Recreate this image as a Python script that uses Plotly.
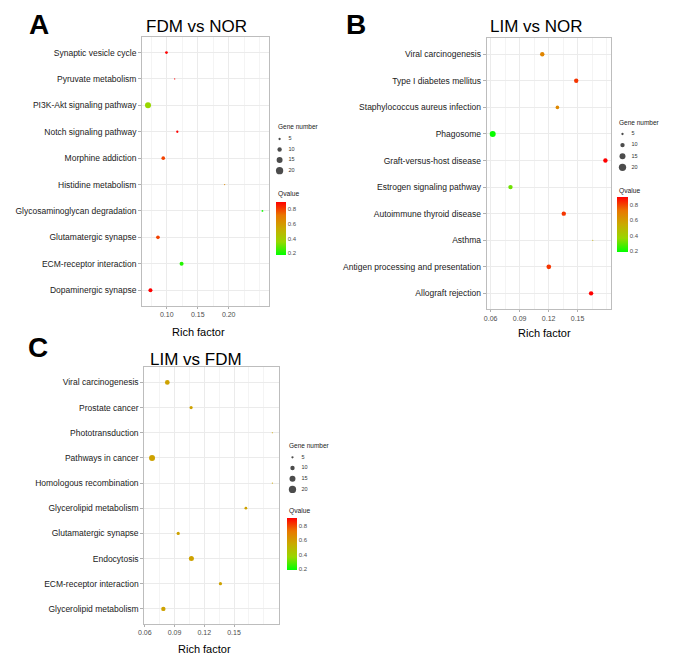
import math
import plotly.graph_objects as go

PAGE_W, PAGE_H = 677, 660
OFF = 8  # default page body margin of the html page
W, H = PAGE_W - OFF, PAGE_H - OFF

# ---------------- data ----------------
a_terms = ["Synaptic vesicle cycle", "Pyruvate metabolism", "PI3K-Akt signaling pathway",
           "Notch signaling pathway", "Morphine addiction", "Histidine metabolism",
           "Glycosaminoglycan degradation", "Glutamatergic synapse", "ECM-receptor interaction",
           "Dopaminergic synapse"]
a_rich = [0.0995, 0.1128, 0.0697, 0.1170, 0.0943, 0.1935, 0.2545, 0.0857, 0.1239, 0.0736]
a_genes = [6, 3, 15, 5, 8, 3, 4, 8, 9, 9]
a_q = [0.90, 0.90, 0.36, 0.90, 0.80, 0.66, 0.20, 0.80, 0.22, 0.90]

b_terms = ["Viral carcinogenesis", "Type I diabetes mellitus", "Staphylococcus aureus infection",
           "Phagosome", "Graft-versus-host disease", "Estrogen signaling pathway",
           "Autoimmune thyroid disease", "Asthma", "Antigen processing and presentation",
           "Allograft rejection"]
b_rich = [0.1134, 0.1486, 0.1291, 0.0621, 0.1788, 0.0805, 0.1357, 0.1657, 0.1202, 0.1640]
b_genes = [10, 10, 8, 15, 10, 10, 10, 3, 11, 10]
b_q = [0.67, 0.82, 0.66, 0.19, 0.90, 0.31, 0.82, 0.52, 0.82, 0.90]

c_terms = ["Viral carcinogenesis", "Prostate cancer", "Phototransduction", "Pathways in cancer",
           "Homologous recombination", "Glycerolipid metabolism", "Glutamatergic synapse",
           "Endocytosis", "ECM-receptor interaction", "Glycerolipid metabolism"]
c_rich = [0.0827, 0.1067, 0.1887, 0.0673, 0.1887, 0.1620, 0.0937, 0.1070, 0.1363, 0.0787]
c_genes = [11, 7, 3, 15, 3, 6, 7, 12, 7, 10]
c_q = [0.57, 0.57, 0.56, 0.57, 0.56, 0.57, 0.57, 0.57, 0.57, 0.57]

titles = ["FDM vs NOR", "LIM vs NOR", "LIM vs FDM"]
letters = ["A", "B", "C"]
x_ticks_a = [0.10, 0.15, 0.20]
x_ticks_bc = [0.06, 0.09, 0.12, 0.15]
gene_legend = [5, 10, 15, 20]
q_ticks = [0.2, 0.4, 0.6, 0.8]

# ---------------- style ----------------
FONT = "Liberation Sans, Arial, sans-serif"
CSCALE = [[0.0, "#00FF00"], [0.25, "#98D700"], [0.5, "#C9AB00"], [0.75, "#E97700"], [1.0, "#FF0000"]]
QMIN, QMAX = 0.18, 0.90


def px_x(p):
    return (p - OFF) / W


def px_y(p):
    return 1 - (p - OFF) / H


def diam(n):
    return max(2.24 * math.sqrt(n) - 2.7, 1.0)


panels = [
    dict(terms=a_terms, rich=a_rich, genes=a_genes, q=a_q, ticks=x_ticks_a, tickfmt="{:.2f}",
         xdom=(137.3, 265.0), ydom=(36.7, 306.0), xrange=(0.0602, 0.2646), minor=0.025,
         cb=(272.0, 201.7, 53.3, 10.0), leg=(276.0, 139.0, 10.55), gene_title=(272.0, 126.0),
         q_title=(272.0, 194.0), rich_title=(193.8, 331.7), title=(192.0, 25.0), letter=(33.0, None)),
    dict(terms=b_terms, rich=b_rich, genes=b_genes, q=b_q, ticks=x_ticks_bc, tickfmt="{:.2f}",
         xdom=(485.0, 610.0), ydom=(38.3, 309.3), xrange=(0.0559, 0.1842), minor=0.015,
         cb=(616.0, 197.3, 55.4, 10.7), leg=(622.0, 134.0, 11.1), gene_title=(616.7, 122.0),
         q_title=(616.0, 190.7), rich_title=(543.0, 333.0), title=(535.0, 25.5), letter=(353.0, None)),
    dict(terms=c_terms, rich=c_rich, genes=c_genes, q=c_q, ticks=x_ticks_bc, tickfmt="{:.2f}",
         xdom=(139.5, 275.7), ydom=(367.3, 624.0), xrange=(0.0595, 0.1957), minor=0.015,
         cb=(283.3, 518.3, 52.4, 10.0), leg=(289.0, 457.3, 10.7), gene_title=(283.3, 445.7),
         q_title=(283.3, 511.0), rich_title=(200.0, 649.0), title=(191.7, 358.0), letter=(32.5, 347.5)),
]

fig = go.Figure()
annotations = []
layout_axes = {}

for i, p in enumerate(panels):
    k = i + 1
    xa = "x" if k == 1 else f"x{k}"
    ya = "y" if k == 1 else f"y{k}"
    xkey = "xaxis" if k == 1 else f"xaxis{k}"
    ykey = "yaxis" if k == 1 else f"yaxis{k}"
    n = len(p["terms"])
    rows = list(range(n))
    cbx, cby, cblen, cbth = p["cb"]
    fig.add_trace(go.Scatter(
        x=p["rich"], y=rows, xaxis=xa, yaxis=ya, mode="markers", showlegend=False,
        hoverinfo="skip",
        marker=dict(size=[diam(g) for g in p["genes"]], color=p["q"], colorscale=CSCALE,
                    cmin=QMIN, cmax=QMAX, opacity=1, line=dict(width=0),
                    showscale=True,
                    colorbar=dict(x=px_x(cbx), xanchor="left", y=px_y(cby), yanchor="top",
                                  lenmode="pixels", len=cblen, thicknessmode="pixels", thickness=cbth,
                                  xpad=0, ypad=0, outlinewidth=0, ticks="", tickvals=q_ticks,
                                  ticktext=[f"{v:.1f}" for v in q_ticks],
                                  tickfont=dict(size=6, color="#4D4D4D", family=FONT)))))
    layout_axes[xkey] = dict(
        domain=[px_x(p["xdom"][0]), px_x(p["xdom"][1])], range=list(p["xrange"]),
        anchor=ya, tickvals=p["ticks"], ticktext=[p["tickfmt"].format(v) for v in p["ticks"]],
        tickfont=dict(size=7, color="#4D4D4D", family=FONT), ticks="outside", ticklen=2,
        tickcolor="#B0B0B0", showgrid=True, gridcolor="#EBEBEB", gridwidth=0.8,
        minor=dict(dtick=p["minor"], tick0=0, showgrid=True, gridcolor="#F4F4F4", gridwidth=0.5, ticks=""),
        showline=True, linecolor="#BDBDBD", linewidth=1, mirror=True, zeroline=False, fixedrange=True)
    layout_axes[ykey] = dict(
        domain=[px_y(p["ydom"][1]), px_y(p["ydom"][0])], range=[n - 0.4, -0.6], anchor=xa,
        tickvals=rows, ticktext=p["terms"], tickfont=dict(size=8.5, color="#1A1A1A", family=FONT),
        ticks="outside", ticklen=3, tickcolor="#B0B0B0", showgrid=True, gridcolor="#EBEBEB",
        gridwidth=0.8, showline=True, linecolor="#BDBDBD", linewidth=1, mirror=True,
        zeroline=False, fixedrange=True)

    # size legend in its own small axes
    lk = k + 3
    lxa, lya = f"x{lk}", f"y{lk}"
    dotx, row0, step = p["leg"]
    ntop = row0 - step / 2
    nbot = row0 + step * (len(gene_legend) - 0.5)
    fig.add_trace(go.Scatter(
        x=[0] * len(gene_legend), y=list(range(len(gene_legend))), xaxis=lxa, yaxis=lya,
        mode="markers", showlegend=False, hoverinfo="skip",
        marker=dict(size=[diam(g) for g in gene_legend], color="black", line=dict(width=0))))
    fig.add_trace(go.Scatter(
        x=[9] * len(gene_legend), y=list(range(len(gene_legend))), xaxis=lxa, yaxis=lya,
        mode="text", text=[str(g) for g in gene_legend], textposition="middle right",
        textfont=dict(size=5.5, color="#333333", family=FONT), showlegend=False, hoverinfo="skip"))
    layout_axes[f"xaxis{lk}"] = dict(domain=[px_x(dotx - 10), px_x(dotx + 30)], range=[-10, 30],
                                      anchor=lya, visible=False, fixedrange=True)
    layout_axes[f"yaxis{lk}"] = dict(domain=[px_y(nbot), px_y(ntop)],
                                      range=[len(gene_legend) - 0.5, -0.5], anchor=lxa,
                                      visible=False, fixedrange=True)

    gx, gy = p["gene_title"]
    annotations.append(dict(text="Gene number", x=px_x(gx), y=px_y(gy), xref="paper", yref="paper",
                            xanchor="left", yanchor="middle", showarrow=False,
                            font=dict(size=6.5, color="#1A1A1A", family=FONT)))
    qx, qy = p["q_title"]
    annotations.append(dict(text="Qvalue", x=px_x(qx), y=px_y(qy), xref="paper", yref="paper",
                            xanchor="left", yanchor="middle", showarrow=False,
                            font=dict(size=6.7, color="#1A1A1A", family=FONT)))
    rx, ry = p["rich_title"]
    annotations.append(dict(text="Rich factor", x=px_x(rx), y=px_y(ry), xref="paper", yref="paper",
                            xanchor="center", yanchor="middle", showarrow=False,
                            font=dict(size=11, color="#000000", family=FONT)))
    tx, ty = p["title"]
    annotations.append(dict(text=titles[i], x=px_x(tx), y=px_y(ty + 1.5), xref="paper", yref="paper",
                            xanchor="center", yanchor="middle", showarrow=False,
                            font=dict(size=17, color="#000000", family=FONT)))
    lx, ly = p["letter"]
    if ly is None:
        annotations.append(dict(text=f"<b>{letters[i]}</b>", x=px_x(lx), y=1.0, xref="paper",
                                yref="paper", xanchor="center", yanchor="top", showarrow=False,
                                borderpad=0, font=dict(size=28, color="#000000", family=FONT)))
    else:
        annotations.append(dict(text=f"<b>{letters[i]}</b>", x=px_x(lx), y=px_y(ly), xref="paper",
                                yref="paper", xanchor="center", yanchor="middle", showarrow=False,
                                font=dict(size=28, color="#000000", family=FONT)))

fig.update_layout(
    width=W, height=H, margin=dict(l=0, r=0, t=0, b=0), paper_bgcolor="white",
    plot_bgcolor="white", showlegend=False, annotations=annotations,
    font=dict(family=FONT), **layout_axes)

fig.write_html("out.html")
